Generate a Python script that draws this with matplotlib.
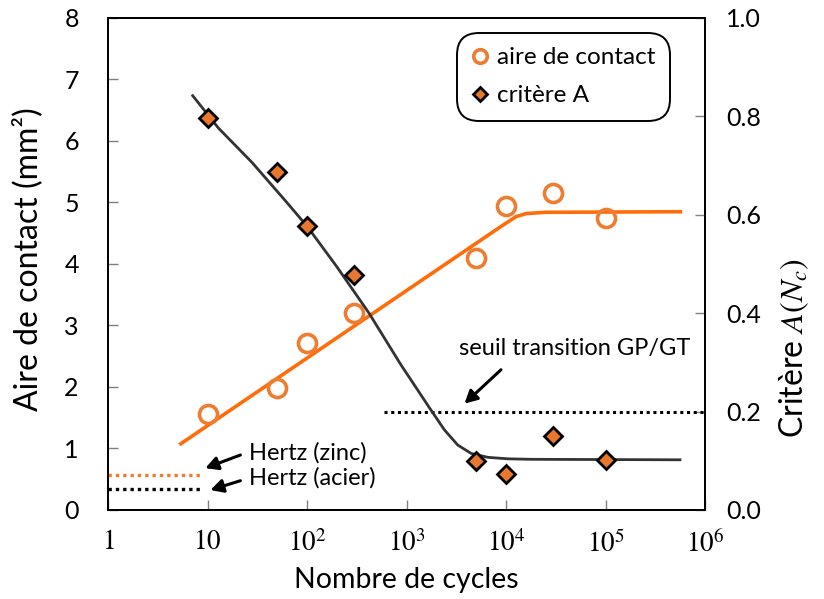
import matplotlib
matplotlib.use("Agg")
import matplotlib.pyplot as plt

plt.rcParams["font.family"] = ["Lato", "DejaVu Sans"]
plt.rcParams["mathtext.fontset"] = "stix"

# Measured points
cycles = [10, 50, 100, 300, 5000, 1e4, 3e4, 1e5]
contact_area = [1.56, 1.99, 2.71, 3.20, 4.09, 4.94, 5.15, 4.75]      # mm^2
criterion_a = [0.796, 0.686, 0.578, 0.478, 0.100, 0.073, 0.150, 0.102]

# Trend curves
area_fit_n = [5.2, 8900, 12600, 16000, 25000, 590000]
area_fit = [1.06, 4.61, 4.77, 4.82, 4.84, 4.85]
crit_fit_n = [7.1, 12.9, 28.1, 60.9, 100.7, 200, 420, 879, 1762, 2400, 3270, 4460,
              6570, 10450, 17950, 560000]
crit_fit = [0.842, 0.776, 0.706, 0.628, 0.576, 0.494, 0.400, 0.295, 0.203, 0.163,
            0.132, 0.115, 0.107, 0.104, 0.103, 0.102]

# Reference levels
hertz_n = [1, 9.1]
hertz_zinc = 0.57
hertz_steel = 0.34
threshold_n = [600, 1e6]
gp_gt_threshold = 0.2

x_ticks = [1, 10, 1e2, 1e3, 1e4, 1e5, 1e6]
x_ticklabels = [r"$1$", r"$10$", r"$10^{2}$", r"$10^{3}$", r"$10^{4}$", r"$10^{5}$", r"$10^{6}$"]
y_ticks = [0, 1, 2, 3, 4, 5, 6, 7, 8]
y2_ticks = [0.0, 0.2, 0.4, 0.6, 0.8, 1.0]

ORANGE_LINE = "#FF6D0A"
ORANGE_MARK = "#EE7D31"
DARK = "#333333"

fig = plt.figure(figsize=(8.24, 5.99), dpi=100)
ax = fig.add_axes([0.1311, 0.1486, 0.7245, 0.8214])
ax2 = ax.twinx()

ax.set_xscale("log")
ax.set_xlim(1, 1e6)
ax.set_ylim(0, 8)
ax2.set_ylim(0, 1.0)

# contact area
ax.plot(area_fit_n, area_fit, color=ORANGE_LINE, lw=2.6, solid_capstyle="butt",
        solid_joinstyle="round", zorder=3)
circ = ax.plot(cycles, contact_area, ls="none", marker="o", ms=13, mfc="none",
               mec=ORANGE_MARK, mew=2.6, zorder=4)[0]
ax.plot(hertz_n, [hertz_zinc] * 2, color=ORANGE_MARK, lw=2.4, ls=(0, (1, 1.2)))
ax.plot(hertz_n, [hertz_steel] * 2, color="black", lw=2.4, ls=(0, (1, 1.2)))

# criterion A
ax2.plot(crit_fit_n, crit_fit, color=DARK, lw=2.0, solid_joinstyle="round", zorder=3)
diam = ax2.plot(cycles, criterion_a, ls="none", marker="D", ms=9, mfc="#E9782C",
                mec="black", mew=2.0, zorder=4)[0]
ax2.plot(threshold_n, [gp_gt_threshold] * 2, color="black", lw=2.2, ls=(0, (1, 1.2)))

# annotations
arrow = dict(arrowstyle="-|>,head_length=0.75,head_width=0.4", color="black", lw=2.2,
             shrinkA=0, shrinkB=0)
txt = dict(fontsize=17, color="black", va="center", ha="left")
ax.annotate("", xy=(9.5, 0.68), xytext=(21.4, 0.894), arrowprops=arrow)
ax.annotate("", xy=(10.7, 0.325), xytext=(21.4, 0.476), arrowprops=arrow)
ax.text(26, 0.922, "Hertz (zinc)", **txt)
ax.text(26, 0.515, "Hertz (acier)", **txt)
ax.annotate("", xy=(3830, 1.73), xytext=(8900, 2.28), arrowprops=arrow)
ax.text(3400, 2.63, "seuil transition GP/GT", **txt)

# axes styling
for a in (ax, ax2):
    for s in a.spines.values():
        s.set_linewidth(1.3)
        s.set_color("black")
ax.minorticks_off()
ax.set_xticks(x_ticks)
ax.set_xticklabels(x_ticklabels)
ax.set_yticks(y_ticks)
ax2.set_yticks(y2_ticks)
ax2.set_yticklabels([f"{v:.1f}" for v in y2_ticks])
ax.tick_params(axis="x", which="both", direction="in", length=7, width=1,
               color="#808080", labelsize=19.5, pad=14)
ax.tick_params(axis="x", which="minor", length=0)
ax.tick_params(axis="y", direction="in", length=7, width=1, color="#808080",
               labelsize=18, pad=21)
ax2.tick_params(axis="y", direction="in", length=7, width=1, color="#808080",
                labelsize=18, pad=15)

ax.set_xlabel("Nombre de cycles", fontsize=20.5)
ax.xaxis.set_label_coords(0.5, -0.116)
ax.set_ylabel("Aire de contact (mm²)", fontsize=23)
ax.yaxis.set_label_coords(-0.108, 0.51)
ax2.set_ylabel(r"Critère $A(N_c)$", fontsize=23)
ax2.yaxis.set_label_coords(1.122, 0.33)

leg = ax2.legend([circ, diam], ["aire de contact", "critère A"], loc="upper right",
                 bbox_to_anchor=(0.941, 0.97), fontsize=17.5, frameon=True,
                 fancybox=True, markerscale=0.75, handlelength=0.7,
                 handletextpad=0.35, borderpad=0.6, labelspacing=0.7,
                 borderaxespad=0)
fr = leg.get_frame()
fr.set_edgecolor("black")
fr.set_linewidth(1.4)
fr.set_alpha(1)
fr.set_boxstyle("round,pad=0,rounding_size=0.9")

fig.savefig("out.png", dpi=100)
